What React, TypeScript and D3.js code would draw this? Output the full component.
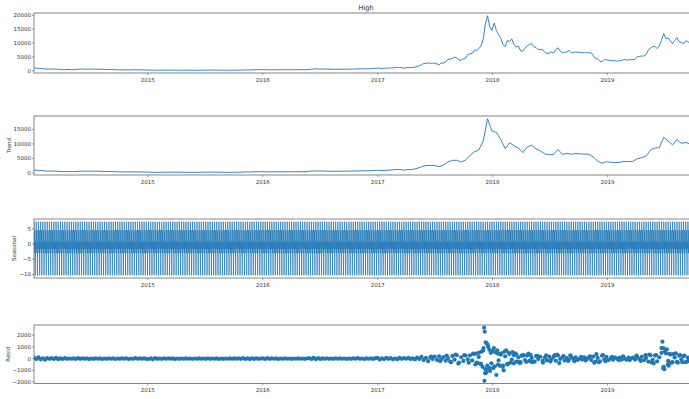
import React from "react";
import * as d3 from "d3";

// daily series sampled weekly from START, trend every 2 weeks, seasonal is a 7-day cycle
const START = "2014-01-04";
const END = "2019-10-16";
const yearTicks = [2015, 2016, 2017, 2018, 2019];

const highWeekly = [
  // 2014
  1000, 1010, 870, 850, 830, 700, 650, 620, 680, 640, 640, 590, 500, 470, 430, 510, 470,
  450, 460, 480, 600, 630, 660, 600, 600, 600, 640, 640, 625, 600, 590, 595, 520, 520, 515,
  490, 480, 450, 410, 340, 390, 390, 360, 330, 370, 420, 380, 380, 380, 360, 330, 330,
  // 2015
  290, 290, 220, 260, 240, 230, 240, 245, 255, 280, 295, 265, 255, 260, 240, 225, 225,
  240, 245, 240, 240, 235, 230, 235, 245, 250, 260, 300, 280, 295, 285, 265, 260, 235, 230,
  240, 235, 232, 236, 240, 250, 270, 285, 330, 390, 340, 330, 360, 400, 465, 465, 455,
  // 2016
  435, 450, 390, 410, 380, 385, 405, 440, 435, 415, 415, 410, 420, 420, 425, 430, 450, 455,
  460, 455, 445, 530, 590, 700, 760, 680, 705, 660, 670, 665, 655, 590, 590, 585, 580,
  610, 625, 610, 605, 615, 620, 640, 660, 720, 710, 720, 750, 740, 770, 780, 795, 900, 970,
  // 2017
  1000, 830, 930, 925, 1050, 1010, 1060, 1200, 1280, 1220, 1100, 980, 1100, 1200, 1190, 1250, 1350,
  1600, 1800, 2200, 2700, 2560, 2950, 2650, 2800, 2580, 2560, 2200, 2860, 2770,
  3300, 4200, 4200, 4450, 4950, 4700, 3800, 3800, 4380, 4600, 5850, 6150, 6260,
  7500, 7300, 7960, 8900, 11300, 16800, 19800, 15800, 14500,
  // 2018
  17200, 14500, 13000, 11700, 9400, 8700, 11000, 10500, 11500, 9500, 8600, 8900, 7200,
  7050, 8200, 9000, 9500, 9800, 8700, 8400, 7600, 7700, 7700, 6600, 6200, 6400,
  6800, 6400, 7600, 8300, 7100, 6500, 6600, 6800, 7300, 6500, 6600, 6750, 6700,
  6650, 6500, 6550, 6500, 6500, 6450, 5600, 4400, 4300, 3500, 3300, 4100, 3950,
  // 2019
  3850, 3700, 3650, 3600, 3500, 3700, 3650, 4150, 3860, 3950, 4020, 4050, 4150,
  5100, 5150, 5350, 5300, 5900, 7400, 8200, 8700, 8800, 8000, 9000, 11000, 13400,
  11600, 11800, 10800, 9800, 10900, 11900, 10500, 10200, 9700, 10800, 10400, 10100, 8300,
  8300, 8400, 8100,
];

const trendBiweekly = [
  // 2014
  980, 890, 800, 650, 660, 630, 520, 450, 480, 460, 590, 640, 600, 630, 620, 590, 525, 510,
  475, 410, 375, 365, 365, 390, 375, 335,
  // 2015
  300, 240, 240, 240, 250, 285, 260, 245, 228, 242, 240, 233, 244, 270, 285, 275, 255, 234,
  236, 236, 255, 290, 370, 335, 420, 460,
  // 2016
  440, 400, 385, 425, 415, 412, 420, 430, 455, 455, 490, 680, 690, 670, 660, 590, 585, 615,
  605, 620, 660, 705, 730, 745, 775, 830, 960,
  // 2017
  850, 920, 1010, 1180, 1200, 990, 1190, 1250, 1580, 2150, 2550, 2600, 2560, 2150, 2760,
  3800, 4330, 4400, 3750, 4500, 6000, 7300, 7900, 10900, 18700, 14400,
  // 2018
  14000, 11500, 8400, 10400, 9400, 8600, 7000, 8900, 9600, 8300, 7600, 6550, 6300, 6350,
  8100, 6400, 6750, 6450, 6700, 6600, 6500, 6450, 5500, 4100, 3350, 3850,
  // 2019
  3700, 3580, 3620, 4000, 3900, 4000, 4900, 5300, 5800, 7900, 8600, 8700, 12300, 11000,
  9700, 11500, 10200, 10500, 10000, 8200, 8200,
];

const seasonalCycle = [7.4, 2.1, -3.0, 4.6, -10.3, 0.8, -1.6];

const residWeekly = [
  // 2014
  80, -40, 120, -60, 30, -90, 50, -20, 40, -30, 60, -50, 20, -30, 40, -20, 10, -10, 20, -30,
  40, -20, 30, -10, 20, -40, 10, -20, 30, -10, 20, -30, 10, -20, 30, -10, 20, -30, 10, -20,
  30, -10, 20, -30, 10, -20, 40, -10, 20, -10, 30, -20,
  // 2015
  -30, 20, -60, 40, -20, 10, -20, 30, -10, 20, -10, 20, -30, 10, -20, 10, -10, 20, -10, 10,
  -20, 10, -10, 20, -10, 10, -20, 30, -20, 10, -10, 20, -30, 10, -20, 10, -10, 20, -10, 20,
  -10, 30, -20, 40, -30, 20, -40, 30, -20, 30, -20, 10,
  // 2016
  20, -30, 40, -20, 30, -10, 20, -30, 10, -10, 20, -10, 10, -20, 10, -10, 20, -10, 10, -20,
  10, 40, -30, 60, -50, 40, -30, 20, -10, 30, -20, 10, -20, 30, -10, 20, -10, 10, -20, 10,
  -20, 30, -10, 40, -20, 10, -30, 20, -10, 20, -30, 40, 60,
  // 2017
  -80, 30, -40, 60, -20, 40, -60, 10, -50, 70, -20, 40, -10, 60, -40, 20, -70, 90, -30, 150,
  -120, 60, -220, 100, -40, 180, -110, 200, -60, 130, -180, 40, -250, 220, -90, 300, -350,
  120, -200, 260, -60, 280, -150, 400, -350, 150, -450, 700, -900, 1200, -800, 600,
  // 2018
  -700, 500, -150, 350, -600, 200, -500, 400, -80, 300, -250, 100, -300, 250, -120, 260,
  -200, 60, -250, 220, -40, 160, -200, 80, -150, 170, -60, 150, -180, 260, -30, 130, -160,
  50, -100, 140, -20, 100, -110, 30, -80, 100, -40, 110, -120, 180, -250, 60, -230, 250,
  -80, 150,
  // 2019
  -120, 40, -90, 80, -20, 90, -80, 30, -90, 80, -10, 90, -80, 150, -40, 160, -140, 60, -250,
  280, -100, 260, -230, 120, 900, -700, 450, -200, 350, -300, 100, -280, 250, -60, 220, -300,
  80, -250, 300, -120, 200, -180,
];

const residExtra: [string, number][] = [
  ["2017-06-20", 180], ["2017-07-18", -220], ["2017-08-08", 260], ["2017-08-22", -300],
  ["2017-09-05", 350], ["2017-09-14", -420], ["2017-10-03", 300], ["2017-10-17", -350],
  ["2017-10-31", 420], ["2017-11-07", -500],
  ["2017-11-12", 450], ["2017-11-15", -380], ["2017-11-20", 520], ["2017-11-24", -450],
  ["2017-11-28", 600], ["2017-11-30", -700], ["2017-12-03", 900], ["2017-12-05", 2650],
  ["2017-12-06", -1900], ["2017-12-07", 2300], ["2017-12-08", -1250], ["2017-12-10", 1400],
  ["2017-12-12", -1200], ["2017-12-13", 1300], ["2017-12-15", -600], ["2017-12-18", 1000],
  ["2017-12-20", -900], ["2017-12-22", 750], ["2017-12-24", -1050], ["2017-12-26", 500],
  ["2017-12-28", -400], ["2017-12-31", 650], ["2018-01-03", -800], ["2018-01-05", 900],
  ["2018-01-08", -650], ["2018-01-10", 550], ["2018-01-13", -1400], ["2018-01-16", 700],
  ["2018-01-18", -500], ["2018-01-21", 400], ["2018-01-24", -600], ["2018-01-29", 450],
  ["2018-02-02", -700], ["2018-02-05", -1000], ["2018-02-08", 600], ["2018-02-13", 700],
  ["2018-02-17", -450], ["2018-02-21", 500], ["2018-02-26", -350], ["2018-03-05", 550],
  ["2018-03-09", -400], ["2018-03-14", 450], ["2018-03-18", 350], ["2018-03-25", -300],
  ["2018-03-29", -380], ["2018-04-03", 250], ["2018-04-10", 300], ["2018-04-18", -280],
  ["2018-04-25", 420], ["2018-05-02", 320], ["2018-05-06", -300], ["2018-05-15", -260],
  ["2018-05-24", 240], ["2018-06-10", -350], ["2018-06-20", 280], ["2018-07-04", -240],
  ["2018-07-17", 300], ["2018-07-25", 350], ["2018-08-01", -380], ["2018-08-15", 220],
  ["2018-08-29", -200], ["2018-09-05", 280], ["2018-09-18", -220], ["2018-10-10", 160],
  ["2018-10-24", -150], ["2018-11-07", 200], ["2018-11-20", -350], ["2018-11-27", 380],
  ["2018-12-05", -300], ["2018-12-18", 300], ["2018-12-26", -220],
  ["2019-01-16", 150], ["2019-02-06", -140], ["2019-02-20", 200], ["2019-03-13", -120],
  ["2019-04-03", 250], ["2019-04-17", -200], ["2019-05-02", 300], ["2019-05-14", 350],
  ["2019-05-21", -320], ["2019-05-28", -400], ["2019-06-05", 300], ["2019-06-22", 500],
  ["2019-06-25", 1450], ["2019-06-27", -800], ["2019-06-28", 900], ["2019-07-01", -900],
  ["2019-07-03", 600], ["2019-07-09", 800], ["2019-07-12", -500], ["2019-07-15", -600],
  ["2019-07-17", 400], ["2019-07-23", -350], ["2019-07-28", 380], ["2019-08-06", 450],
  ["2019-08-13", -350], ["2019-08-20", 300], ["2019-08-27", -300], ["2019-09-03", 260],
  ["2019-09-10", -250], ["2019-09-17", -200], ["2019-09-24", -450], ["2019-09-26", 350],
];

const highTicks = [0, 5000, 10000, 15000, 20000];
const trendTicks = [0, 5000, 10000, 15000];
const seasonalTicks = [-10, -5, 0, 5];
const residTicks = [-2000, -1000, 0, 1000, 2000];

const BLUE = "#1f77b4";
const FONT = "DejaVu Sans, sans-serif";
const parse = d3.timeParse("%Y-%m-%d");

function App() {
  const start = parse(START)!;
  const end = parse(END)!;
  const x = d3.scaleTime().domain([start, end]).range([34, 698]);

  const high = highWeekly.map((v, i) => ({ d: d3.timeDay.offset(start, 7 * i), v }));
  const trend = trendBiweekly.map((v, i) => ({ d: d3.timeDay.offset(start, 14 * i), v }));
  const seasonal = d3.timeDay.range(start, d3.timeDay.offset(end, 1)).map((d, i) => ({ d, v: seasonalCycle[i % 7] }));
  const resid = residWeekly
    .map((v, i) => ({ d: d3.timeDay.offset(start, 7 * i), v }))
    .concat(residExtra.map(([s, v]) => ({ d: parse(s)!, v })));

  // matplotlib-style 5% margins
  const pad = (vals: number[]) => {
    const [lo, hi] = d3.extent(vals) as [number, number];
    const m = (hi - lo) * 0.05;
    return [lo - m, hi + m];
  };

  const panels = [
    { id: "high", top: 13, bottom: 73, data: high, ticks: highTicks, kind: "line", label: "", labelX: 0 },
    { id: "trend", top: 116, bottom: 175, data: trend, ticks: trendTicks, kind: "line", label: "Trend", labelX: 9 },
    { id: "seasonal", top: 219, bottom: 278, data: seasonal, ticks: seasonalTicks, kind: "line", label: "Seasonal", labelX: 14 },
    { id: "resid", top: 325, bottom: 383.5, data: resid, ticks: residTicks, kind: "dots", label: "Resid", labelX: 8 },
  ];

  const fmt = (v: number) => d3.format("d")(v).replace("-", "\u2212");

  return (
    <div>
      <style>{`body{margin:0;background:#fff}`}</style>
      <svg width={689} height={399} style={{ display: "block" }} fontFamily={FONT}>
        <rect width={689} height={399} fill="#fff" />
        <text x={366} y={9.5} fontSize={6.6} textAnchor="middle" fill="#222">High</text>
        {panels.map((p) => {
          const y = d3.scaleLinear().domain(pad(p.data.map((d) => d.v))).range([p.bottom, p.top]);
          const line = d3.line<{ d: Date; v: number }>().x((d) => x(d.d)).y((d) => y(d.v));
          return (
            <g key={p.id}>
              <clipPath id={`clip-${p.id}`}>
                <rect x={34} y={p.top} width={664} height={p.bottom - p.top} />
              </clipPath>
              <g clipPath={`url(#clip-${p.id})`}>
                {p.kind === "line" ? (
                  <path d={line(p.data) || ""} fill="none" stroke={BLUE} strokeWidth={p.id === "seasonal" ? 0.7 : 0.9} />
                ) : (
                  p.data.map((d, i) => <circle key={i} cx={x(d.d)} cy={y(d.v)} r={2.1} fill={BLUE} />)
                )}
              </g>
              <rect x={34} y={p.top} width={664} height={p.bottom - p.top} fill="none" stroke="#666" strokeWidth={0.8} />
              {p.ticks.map((t) => (
                <g key={t} transform={`translate(34,${y(t)})`}>
                  <line x1={-2} x2={0} stroke="#555" strokeWidth={0.6} />
                  <text x={-3} dy="0.35em" fontSize={5.5} textAnchor="end" fill="#333">{fmt(t)}</text>
                </g>
              ))}
              {yearTicks.map((yr) => (
                <g key={yr} transform={`translate(${x(new Date(yr, 0, 1))},${p.bottom})`}>
                  <line y2={2} stroke="#555" strokeWidth={0.6} />
                  <text y={8.5} fontSize={5.5} textAnchor="middle" fill="#333">{yr}</text>
                </g>
              ))}
              {p.label && (
                <text
                  transform={`translate(${p.labelX},${(p.top + p.bottom) / 2}) rotate(-90)`}
                  fontSize={5.5}
                  textAnchor="middle"
                  dy="0.35em"
                  fill="#333"
                >
                  {p.label}
                </text>
              )}
            </g>
          );
        })}
      </svg>
    </div>
  );
}

export default App;
